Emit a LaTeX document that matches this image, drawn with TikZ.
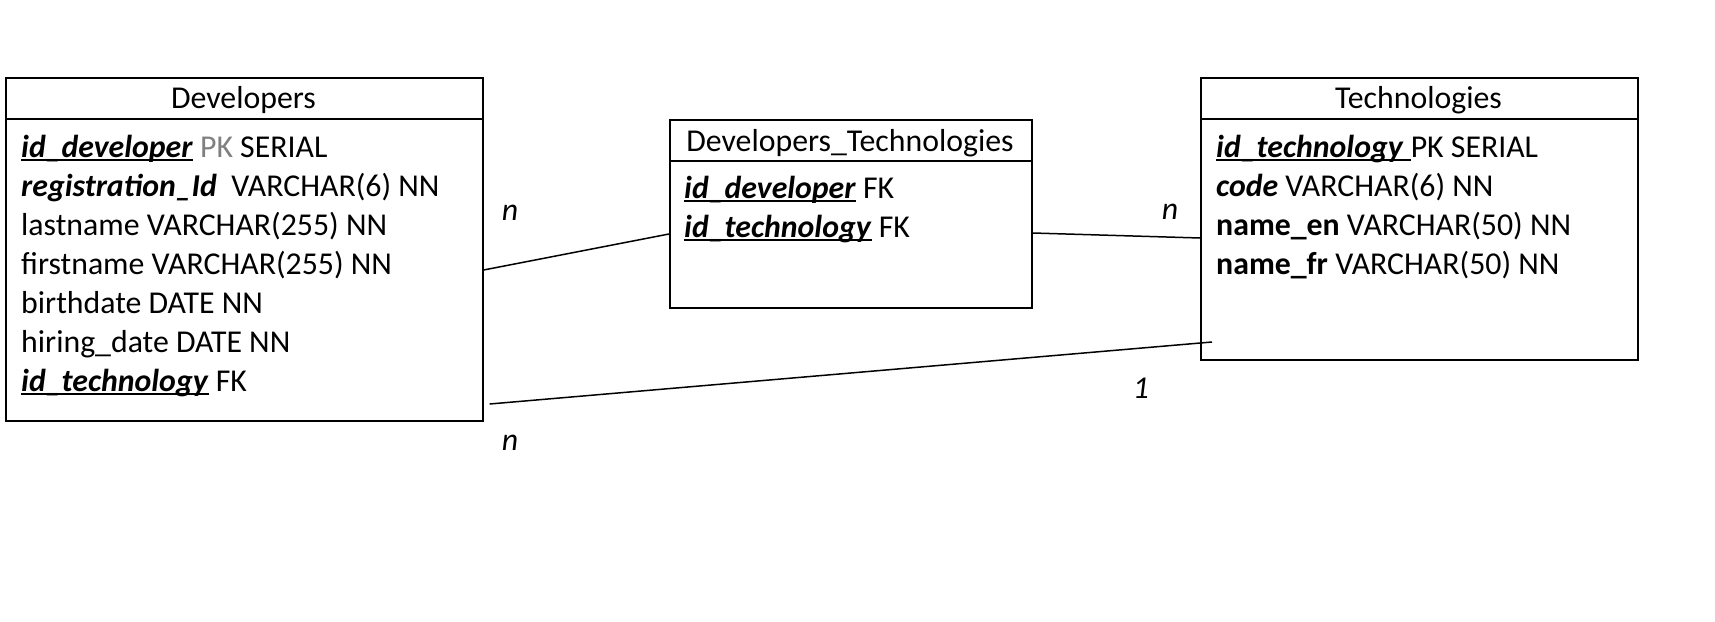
\documentclass[tikz,border=0pt]{standalone}
\usepackage{fontspec}
\setmainfont{Carlito}
\definecolor{pkgray}{RGB}{128,128,128}
\newcommand{\myul}[1]{\setbox0\hbox{#1}\rlap{\vrule width\wd0 height -2pt depth 4.2pt}\box0\relax}
\newcommand{\keyf}[1]{\myul{\textbf{\textit{#1}}}}
\newcommand{\bif}[1]{\textbf{\textit{#1}}}
\begin{document}
\begin{tikzpicture}[x=1pt,y=-1pt,
  font=\fontsize{31.8}{39}\selectfont,
  tbl/.style={draw, line width=1.6pt, rectangle, inner sep=0pt, anchor=north west},
  row/.style={anchor=base west, inner sep=0pt},
  ttl/.style={anchor=base, inner sep=0pt},
  card/.style={inner sep=0pt, font=\fontsize{31.8}{39}\selectfont\itshape},
  rel/.style={line width=1.5pt},
  hdr/.style={line width=1.6pt}]
\useasboundingbox (0,0) rectangle (1715,621);
% tables
\node[tbl, minimum width=477pt, minimum height=343pt] (dev) at (5,77) {};
\node[tbl, minimum width=362pt, minimum height=188pt] (dt) at (669,119) {};
\node[tbl, minimum width=437pt, minimum height=282pt] (tech) at (1200,77) {};
\draw[hdr] ([yshift=-42pt]dev.north west) -- ([yshift=-42pt]dev.north east);
\draw[hdr] ([yshift=-42pt]dt.north west) -- ([yshift=-42pt]dt.north east);
\draw[hdr] ([yshift=-42pt]tech.north west) -- ([yshift=-42pt]tech.north east);
% titles
\node[ttl] (devt) at (243.5,108) {Developers};
\node[ttl] (dtt) at (850,151) {Developers\_Technologies};
\node[ttl] (techt) at (1418.5,108) {Technologies};
% Developers rows
\node[row] (d1) at (21,157) {\keyf{id\_developer} \textcolor{pkgray}{PK} SERIAL};
\node[row] (d2) at (21,196) {\bif{registration\_Id}\ \ VARCHAR(6) NN};
\node[row] (d3) at (21,235) {lastname VARCHAR(255) NN};
\node[row] (d4) at (21,274) {firstname VARCHAR(255) NN};
\node[row] (d5) at (21,313) {birthdate DATE NN};
\node[row] (d6) at (21,352) {hiring\_date DATE NN};
\node[row] (d7) at (21,391) {\keyf{id\_technology} FK};
% Developers_Technologies rows
\node[row] (j1) at (684,198) {\keyf{id\_developer} FK};
\node[row] (j2) at (684,237) {\keyf{id\_technology} FK};
% Technologies rows
\node[row] (t1) at (1216,157) {\myul{\textbf{\textit{id\_technology}}\ }PK SERIAL};
\node[row] (t2) at (1216,196) {\bif{code} VARCHAR(6) NN};
\node[row] (t3) at (1216,235) {\textbf{name\_en} VARCHAR(50) NN};
\node[row] (t4) at (1216,274) {\textbf{name\_fr} VARCHAR(50) NN};
% connectors
\coordinate (a1) at ([yshift=-193pt]dev.north east);
\coordinate (b1) at ([yshift=-115pt]dt.north west);
\coordinate (a2) at ([yshift=-114pt]dt.north east);
\coordinate (b2) at ([yshift=-161pt]tech.north west);
\coordinate (a3) at ([xshift=6pt,yshift=-327pt]dev.north east);
\coordinate (b3) at ([xshift=12pt,yshift=-265pt]tech.north west);
\draw[rel] (a1) -- (b1);
\draw[rel] (a2) -- (b2);
\draw[rel] (a3) -- (b3);
% cardinalities
\node[card] (c1) at (510,213) {n};
\node[card] (c2) at (1170,212) {n};
\node[card] (c3) at (1141,388) {1};
\node[card] (c4) at (510,443) {n};
\end{tikzpicture}
\end{document}
